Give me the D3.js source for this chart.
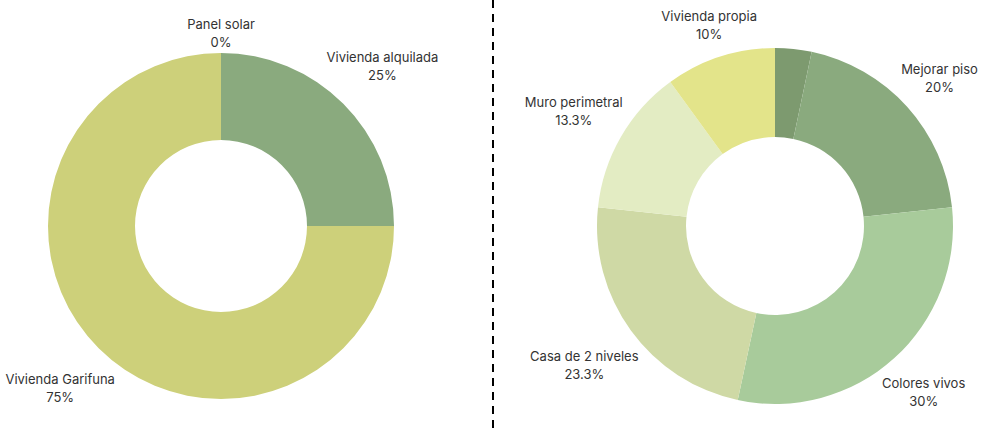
<!DOCTYPE html>
<html>
<head>
<meta charset="utf-8">
<script src="https://cdn.jsdelivr.net/npm/d3@7"></script>
<style>
    body { margin: 0; background: #ffffff; }
    text { font-family: Inter, "Noto Sans", sans-serif; font-size: 13px; fill: #333333; }
</style>
</head>
<body>
<script>
// Left chart data (order clockwise from top)
let leftCategories = ['Panel solar', 'Vivienda alquilada', 'Vivienda Garifuna'];
let leftValues = [0, 25, 75];
let leftLabels = ['0%', '25%', '75%'];
let leftColors = ['#7d9a6f', '#8aaa7e', '#cdd07a'];

// Right chart data (first slice has no label in the original)
let rightCategories = ['', 'Mejorar piso', 'Colores vivos', 'Casa de 2 niveles', 'Muro perimetral', 'Vivienda propia'];
let rightValues = [3.3, 20, 30, 23.3, 13.3, 10];
let rightLabels = ['', '20%', '30%', '23.3%', '13.3%', '10%'];
let rightColors = ['#7d9a6f', '#8aaa7e', '#a8cb9b', '#cfd9a5', '#e3ecc3', '#e3e48a'];

let width = 982, height = 433;

let svg = d3
    .select('body')
    .append('svg')
    .attr('width', width)
    .attr('height', height);

function drawDonut(cx, cy, outer, inner, categories, values, labels, colors) {
    let data = categories.map((c, i) => ({ name: c, value: values[i], label: labels[i], color: colors[i] }));

    let pie = d3.pie()
        .sort(null)
        .value(d => d.value);

    let arc = d3.arc()
        .innerRadius(inner)
        .outerRadius(outer);

    let g = svg.append('g')
        .attr('transform', `translate(${cx},${cy})`);

    let arcs = pie(data);

    g.selectAll('path')
        .data(arcs)
        .enter()
        .append('path')
        .attr('d', arc)
        .attr('fill', d => d.data.color);

    // Labels outside the ring, pushed out so the text box just clears it
    arcs.filter(d => d.data.name !== '').forEach(d => {
        let a = (d.startAngle + d.endAngle) / 2;
        let dx = Math.sin(a), dy = -Math.cos(a);

        let lab = g.append('g');
        lab.append('text')
            .attr('text-anchor', 'middle')
            .attr('y', -3)
            .text(d.data.name);
        lab.append('text')
            .attr('text-anchor', 'middle')
            .attr('y', 15)
            .text(d.data.label);

        let box = lab.node().getBBox();
        let w = box.width, h = 36;
        let dist = outer + 3 + Math.abs(dx) * w / 2 + Math.abs(dy) * h / 2;
        lab.attr('transform', `translate(${dx * dist},${dy * dist})`);
    });
}

drawDonut(221, 226, 173, 86, leftCategories, leftValues, leftLabels, leftColors);
drawDonut(775, 226, 178, 89, rightCategories, rightValues, rightLabels, rightColors);

// Dashed divider
svg.append('line')
    .attr('x1', 493)
    .attr('x2', 493)
    .attr('y1', 0)
    .attr('y2', 433)
    .attr('stroke', '#000000')
    .attr('stroke-width', 2)
    .attr('stroke-dasharray', '8,6');
</script>
</body>
</html>
